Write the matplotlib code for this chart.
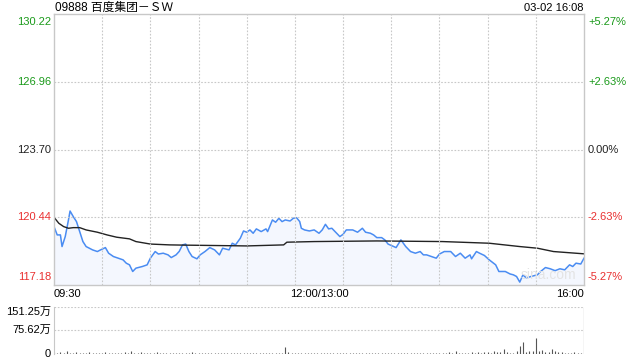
import matplotlib
matplotlib.use("Agg")
import matplotlib.pyplot as plt

plt.rcParams['font.family'] = ['Liberation Sans', 'Noto Sans CJK SC', 'DejaVu Sans']

# Stock info
title = "09888 百度集团－ＳＷ"
stamp = "03-02 16:08"
prev_close = 123.70
price_ticks = [130.22, 126.96, 123.70, 120.44, 117.18]
pct_ticks = ["+5.27%", "+2.63%", "0.00%", "-2.63%", "-5.27%"]
x_labels = ["09:30", "12:00/13:00", "16:00"]

# minute index since 09:30 (trading minutes, lunch removed) and price
price_min = [0, 2, 4, 5, 7, 9, 10, 12, 14, 16, 18, 20, 22, 24, 27, 29, 32, 34, 37, 40,
             43, 45, 47, 49, 51, 55, 58, 60, 63, 65, 68, 71, 73, 76, 78, 80, 82, 84, 86, 89,
             91, 94, 97, 100, 103, 105, 109, 111, 113, 116, 118, 120, 122, 124, 126, 129,
             132, 133, 136, 138, 140, 142, 144, 147, 149, 151, 153, 154, 156, 159, 162, 165,
             167, 169, 171, 173, 175, 178, 180, 182, 186, 189, 192, 194, 197, 199, 201, 204,
             206, 208, 210, 213, 216, 219, 222, 225, 228, 230, 232, 235, 238, 240, 243, 247,
             250, 253, 256, 259, 260, 263, 265, 268, 271, 275, 277, 281, 284, 286, 288, 290,
             292, 294, 297, 301, 303, 306, 309, 312, 315, 318, 321, 323, 325, 328, 330]
price = [119.99, 119.59, 119.59, 119.03, 119.51, 120.31, 120.74, 120.47, 120.23, 119.75,
         119.27, 119.03, 118.95, 118.87, 118.79, 118.87, 118.98, 118.71, 118.55, 118.47,
         118.39, 118.23, 118.15, 117.83, 117.99, 118.07, 118.15, 118.47, 118.79, 118.67,
         118.71, 118.63, 118.50, 118.63, 118.80, 119.11, 119.15, 118.79, 118.55, 118.44,
         118.63, 118.79, 118.98, 118.87, 118.63, 118.95, 118.87, 119.19, 119.11, 119.43,
         119.78, 119.72, 119.83, 119.67, 119.88, 119.75, 119.88, 119.75, 120.31, 120.20,
         120.39, 120.23, 120.31, 120.26, 120.39, 120.42, 120.23, 119.91, 119.83, 119.78,
         119.83, 119.67, 119.83, 120.10, 119.88, 119.91, 119.75, 119.51, 119.62, 119.83,
         119.83, 119.72, 119.91, 119.72, 119.67, 119.59, 119.46, 119.46, 119.35, 119.15,
         119.08, 118.98, 119.35, 119.03, 118.79, 118.71, 118.79, 118.63, 118.63, 118.55,
         118.47, 118.67, 118.79, 118.79, 118.55, 118.71, 118.47, 118.63, 118.44, 118.79,
         118.71, 118.60, 118.39, 118.15, 117.83, 117.83, 117.71, 117.67, 117.59, 117.32,
         117.67, 117.52, 117.59, 117.67, 117.83, 118.02, 117.96, 117.87, 117.96, 117.91,
         118.15, 118.07, 118.23, 118.19, 118.47]

avg_min = [0, 3, 6, 9, 12, 16, 20, 27, 33, 39, 47, 51, 60, 72, 80, 120, 143, 145, 162,
           201, 242, 271, 290, 301, 311, 330]
avg_price = [120.44, 120.15, 119.99, 119.91, 119.94, 119.94, 119.83, 119.72, 119.59, 119.48,
             119.40, 119.27, 119.15, 119.11, 119.10, 119.06, 119.11, 119.24, 119.27, 119.30,
             119.27, 119.19, 119.03, 118.95, 118.79, 118.68]

# volume in 万 shares, every 2 minutes
vol_min = list(range(0, 331, 2))
vol = [6, 4, 5, 3, 8, 4, 3, 5, 2, 4, 3, 5, 3, 4, 2, 3, 5, 3, 4, 2,
       3, 4, 6, 3, 10, 4, 3, 5, 2, 4, 3, 3, 5, 2, 3, 4, 2, 3, 4, 3,
       2, 4, 3, 5, 2, 3, 4, 2, 3, 2, 4, 3, 2, 3, 4, 2, 3, 2, 3, 4,
       2, 3, 3, 2, 4, 2, 3, 2, 3, 4, 2, 3, 23, 5, 3, 4, 2, 3, 2, 4,
       3, 2, 3, 2, 4, 3, 2, 3, 2, 3, 4, 2, 3, 2, 3, 2, 4, 3, 2, 3,
       2, 3, 4, 2, 3, 2, 3, 4, 2, 3, 2, 4, 3, 2, 3, 4, 2, 3, 2, 3,
       4, 2, 3, 5, 3, 8, 3, 2, 4, 3, 5, 4, 6, 3, 5, 7, 4, 9, 5, 6,
       17, 6, 4, 3, 8, 27, 37, 6, 8, 10, 50, 9, 12, 7, 6, 17, 9, 5, 6, 4,
       3, 4, 5, 3, 4, 151.25]

red = "#e93030"
green = "#1a9a1a"
grid_c = "#c8c8c8"
line_c = "#4a8cf2"

fig = plt.figure(figsize=(6.4, 3.6), dpi=100)
ax = fig.add_axes([54 / 640, 1 - 285 / 360, 530 / 640, 271 / 360])
axv = fig.add_axes([54 / 640, 1 - 354 / 360, 530 / 640, 47.3 / 360])

# price panel
ax.fill_between(price_min, price, price_ticks[-1], color="#f4f7fe", lw=0)
ax.plot(price_min, price, color=line_c, lw=1.1)
ax.plot(avg_min, avg_price, color="#222222", lw=1.0)
ax.set_xlim(0, 330)
ax.set_ylim(price_ticks[-1], price_ticks[0])
for t in range(30, 330, 30):
    ax.axvline(t, color=grid_c, lw=0.8, ls=(0, (1.5, 1.5)))
for p in price_ticks[1:-1]:
    ax.axhline(p, color=grid_c, lw=0.8, ls=(0, (1.5, 1.5)))
for s in ax.spines.values():
    s.set_color("#c8c8c8")
    s.set_linewidth(1)
ax.set_xticks([])
ax.set_yticks([])

for i, (p, pc) in enumerate(zip(price_ticks, pct_ticks)):
    c = green if p > prev_close else (red if p < prev_close else "#222222")
    va = "top" if i == 0 else ("bottom" if i == len(price_ticks) - 1 else "center")
    off = -3 if i == 0 else (3 if i == len(price_ticks) - 1 else 0)
    ax.annotate(f"{p:.2f}", (0, p), xycoords=("axes fraction", "data"),
                xytext=(-3, off), textcoords="offset pixels",
                ha="right", va=va, color=c, fontsize=8)
    ax.annotate(pc, (1, p), xycoords=("axes fraction", "data"),
                xytext=(4, off), textcoords="offset pixels",
                ha="left", va=va, color=c, fontsize=8)

ax.text(0, -0.015, x_labels[0], transform=ax.transAxes, ha="left", va="top", fontsize=8)
ax.text(0.5, -0.015, x_labels[1], transform=ax.transAxes, ha="center", va="top", fontsize=8)
ax.text(1, -0.015, x_labels[2], transform=ax.transAxes, ha="right", va="top", fontsize=8)
ax.text(0.985, 0.01, "sina.com", transform=ax.transAxes, ha="right", va="bottom",
        fontsize=10, color="#e4e4e4")

fig.text(55 / 640, 1 - 8 / 360, title, ha="left", va="center", fontsize=8.5)
fig.text(584 / 640, 1 - 8 / 360, stamp, ha="right", va="center", fontsize=8)

# volume panel
axv.vlines(vol_min, 0, vol, color="#555555", lw=0.8)
axv.set_xlim(0, 330)
axv.set_ylim(0, 151.25)
for v in [75.62, 151.25]:
    axv.axhline(v, color=grid_c, lw=0.8, ls=(0, (1.5, 1.5)))
for k in ["top", "right", "bottom"]:
    axv.spines[k].set_visible(False)
axv.spines["left"].set_color("#c8c8c8")
axv.set_xticks([])
axv.set_yticks([])
for v, lab, va in [(151.25, "151.25万", "top"), (75.62, "75.62万", "center"), (0, "0", "center")]:
    axv.annotate(lab, (0, v), xycoords=("axes fraction", "data"), xytext=(-3, 0),
                 textcoords="offset pixels", ha="right", va=va, fontsize=8)

fig.savefig("out.png", dpi=100)
